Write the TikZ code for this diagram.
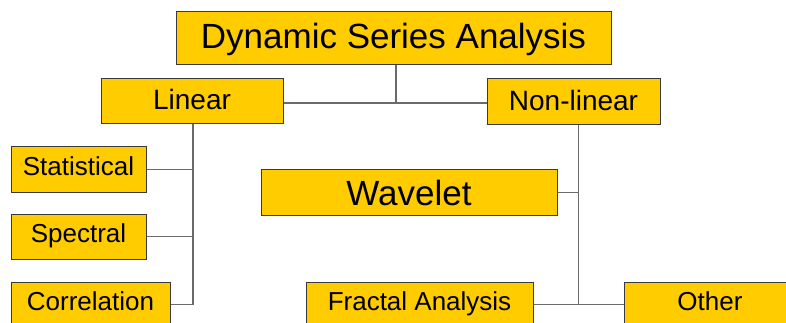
\documentclass[tikz,border=0pt]{standalone}
\usepackage{ fontspec }
\usepackage{ tikz }
\setmainfont{Liberation Sans}
\definecolor{boxgold}{HTML}{FFCC00}
\definecolor{boxedge}{HTML}{3A3A3A}
\definecolor{linkgray}{HTML}{6A6A6A}

\begin{document}
\begin{tikzpicture}[x=1pt, y=-1pt,
  box/.style={draw=boxedge, line width=1pt, fill=boxgold, inner sep=0pt, minimum height=45pt, text height=18.6pt, text depth=6.5pt, font=\fontsize{26}{30}\selectfont},
  bigbox/.style={box, text height=25pt, font=\fontsize{35}{40}\selectfont},
  midbox/.style={box, text height=20pt, text depth=3.4pt, font=\fontsize{28}{32}\selectfont},
  link/.style={draw=linkgray, line width=1.4pt}]
  \useasboundingbox (0,0) rectangle (786,323);

  % Top box
  \node[bigbox, minimum width=435pt, minimum height=53pt, text depth=5pt] (title) at (393.5,38.5) {Dynamic Series Analysis};

  % Two branches
  \node[midbox, minimum width=182pt] (lin) at (192,101.5) {Linear};
  \node[midbox, minimum width=173pt, minimum height=46pt] (nonlin) at (573.5,102) {Non-linear};

  % Linear methods
  \node[box, minimum width=135pt] (stat) at (78.5,169.5) {Statistical};
  \node[box, minimum width=135pt] (spec) at (78.5,236.5) {Spectral};
  \node[box, minimum width=159pt] (corr) at (90.5,304.5) {Correlation};

  % Non-linear methods
  \node[bigbox, minimum width=296pt, minimum height=46pt, text depth=0pt] (wav) at (409,192.5) {Wavelet};
  \node[box, minimum width=227pt] (frac) at (419.5,304.5) {Fractal Analysis};
  \node[box, minimum width=172pt] (other) at (710,304.5) {Other};

  % Links from the top
  \coordinate (lmid) at ([yshift=-1.5pt]lin.east);
  \draw[link] (lmid) -- (lmid -| nonlin.west);
  \coordinate (ttop) at ([xshift=2.5pt]title.south);
  \draw[link] (ttop) -- (ttop |- lmid);

  % Links under Linear
  \coordinate (ltop) at ([xshift=1pt]lin.south);
  \draw[link] (ltop) |- (corr.east);
  \draw[link] (stat.east) -- (stat.east -| ltop);
  \draw[link] (spec.east) -- (spec.east -| ltop);

  % Links under Non-linear
  \coordinate (ntop) at ([xshift=5pt]nonlin.south);
  \draw[link] (ntop) -- (ntop |- frac.east);
  \draw[link] (wav.east) -- (wav.east -| ntop);
  \draw[link] (frac.east) -- (other.west);
\end{tikzpicture}
\end{document}
